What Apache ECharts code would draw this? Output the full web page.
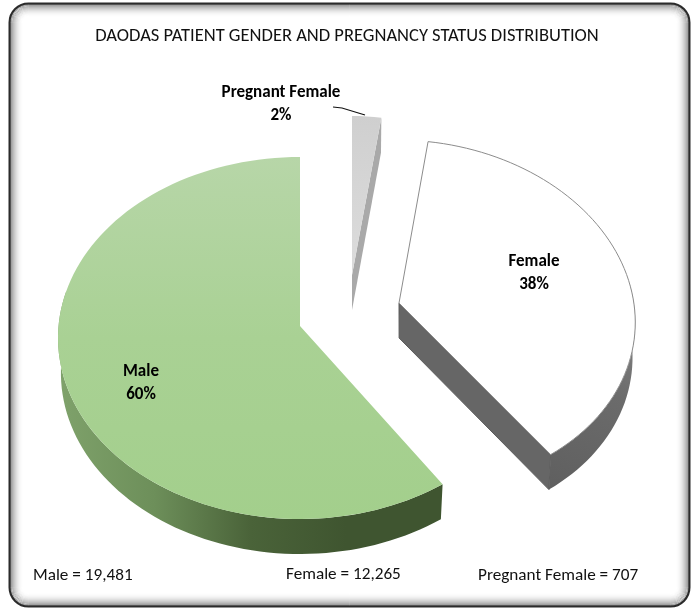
<!DOCTYPE html>
<html>
<head>
<meta charset="utf-8">
<title>DAODAS patient gender and pregnancy status</title>
<script src="https://cdn.jsdelivr.net/npm/echarts@6/dist/echarts.min.js"></script>
<style>
html, body { margin: 0; padding: 0; background: #fff; }
#chart { width: 695px; height: 608px; }
</style>
</head>
<body>
<div id="chart"></div>
<script>
var titleText = 'DAODAS PATIENT GENDER AND PREGNANCY STATUS DISTRIBUTION';
// 数据
var categories = ['Male', 'Female', 'Pregnant Female'];
var counts = [19481, 12265, 707];
var percentLabels = ['60%', '38%', '2%'];

var font = 'Carlito, Calibri, Lato, "Open Sans", sans-serif';
var DEPTH = 35;
var SHRINK = 0.988;

// 每块的椭圆位置（三维饼图的透视手工拟合）
var shapes = [
	{ cx: 300, cy: 338, rx: 242, ry: 181, sk: 0, ax: 300, ay: 326, lx: 141, ly: 383 },
	{ cx: 408, cy: 314, rx: 227, ry: 174, sk: 11, ax: 399, ay: 303, lx: 534, ly: 273 },
	{ cx: 352, cy: 297, rx: 215, ry: 181, sk: 0, ax: 352, ay: 275, lx: 281, ly: 104 }
];

var total = counts.reduce(function(a, b) { return a + b; }, 0);
// 顺时针从12点开始：孕妇、女性、男性
var sweep = counts.map(function(v) { return v / total * 360; });
var ranges = [
	[sweep[2] + sweep[1], 360],
	[sweep[2], sweep[2] + sweep[1]],
	[0, sweep[2]]
];

function rimPoint(s, deg) {
	var t = deg * Math.PI / 180;
	return [s.cx + s.rx * Math.sin(t) - s.sk * Math.cos(t), s.cy - s.ry * Math.cos(t)];
}
function rimPoints(s, from, to) {
	var pts = [];
	var n = Math.max(4, Math.ceil(Math.abs(to - from) / 2));
	for (var i = 0; i <= n; i++) {
		pts.push(rimPoint(s, from + (to - from) * i / n));
	}
	return pts;
}
// 底面：下移并略微收窄
function drop(s, pts) {
	return pts.map(function(p) {
		return [s.cx + (p[0] - s.cx) * SHRINK, p[1] + DEPTH];
	}).reverse();
}
function poly(points, fill, stroke, z2) {
	return {
		type: 'polygon',
		z2: z2 || 0,
		shape: { points: points },
		style: { fill: fill, stroke: stroke || null, lineWidth: stroke ? 1 : 0 }
	};
}
function grad(x, y, x2, y2, stops) {
	return new echarts.graphic.LinearGradient(x, y, x2, y2, stops.map(function(c, i) {
		return { offset: i / (stops.length - 1), color: c };
	}));
}

function renderSlice(params, api) {
	var i = params.dataIndex;
	var s = shapes[i];
	var r = ranges[i];
	var top = [[s.ax, s.ay]].concat(rimPoints(s, r[0], r[1]));
	var kids = [];

	if (i === 0) {
		var outer = rimPoints(s, r[0], 285);
		kids.push(poly(outer.concat(drop(s, outer)), grad(1, 0, 0, 0, ['#3f5530', '#3f5530', '#4a6339', '#6d8f5a', '#7fa26b'])));
		kids.push(poly(top, grad(0, 0, 0, 1, ['#b7d6a8', '#a9d194', '#a3cf8c'])));
	} else if (i === 1) {
		var side = [[s.ax, s.ay], rimPoint(s, r[1])];
		kids.push(poly(side.concat(drop(s, side)), '#666666', '#5c5c5c'));
		var rim = rimPoints(s, r[1], 80);
		kids.push(poly(rim.concat(drop(s, rim)), grad(0, 1, 1, 0, ['#5f5f5f', '#6b6b6b', '#8e8e8e'])));
		kids.push(poly(top, '#ffffff', '#8c8c8c', 1));
	} else {
		var edge = [[s.ax, s.ay], rimPoint(s, r[1])];
		kids.push(poly(edge.concat(drop(s, edge)), '#a9a9a9'));
		kids.push(poly(top, grad(0, 0, 0, 1, ['#cfcfcf', '#d6d6d6', '#dcdcdc']), null, 1));
		kids.push({
			type: 'polyline',
			z2: 3,
			shape: { points: [[333, 107], [342, 108], [365, 115]] },
			style: { fill: null, stroke: '#111111', lineWidth: 1.2 }
		});
	}
	kids.push({
		type: 'text',
		z2: 5,
		x: s.lx,
		y: s.ly,
		style: {
			text: api.value(1) + '\n' + api.value(2),
			fill: '#000000',
			font: 'bold 17px ' + font,
			lineHeight: 23,
			align: 'center',
			verticalAlign: 'middle'
		}
	});
	return { type: 'group', children: kids };
}

// 外框：深色边线，向内渐隐的斜面阴影
var frame = [{
	type: 'rect',
	z: -2,
	shape: { x: 9.5, y: 3.5, width: 680, height: 603, r: 19 },
	style: { fill: '#ffffff', stroke: '#2b2b2b', lineWidth: 2 }
}];
for (var k = 1; k <= 13; k++) {
	var a = 0.5 * Math.pow(1 - k / 14, 2);
	frame.push({
		type: 'rect',
		z: -1,
		shape: { x: 9.5 + k, y: 3.5 + k, width: 680 - 2 * k, height: 603 - 2 * k, r: Math.max(19 - k, 2) },
		style: { fill: null, stroke: 'rgba(0,0,0,' + a.toFixed(3) + ')', lineWidth: 1 }
	});
}
function footText(x, y, text) {
	return { type: 'text', x: x, y: y, style: { text: text, font: '17.2px ' + font, fill: '#111111', verticalAlign: 'middle' } };
}

var chart = echarts.init(document.getElementById('chart'), null, { renderer: 'canvas' });
chart.setOption({
	animation: false,
	backgroundColor: '#ffffff',
	title: {
		text: titleText,
		left: 342,
		top: 22,
		textAlign: 'center',
		textStyle: { fontFamily: font, fontSize: 18.5, fontWeight: 'normal', color: '#111111' }
	},
	graphic: frame.concat([
		footText(33, 576, categories[0] + ' = ' + counts[0].toLocaleString('en-US')),
		footText(286, 575, categories[1] + ' = ' + counts[1].toLocaleString('en-US')),
		footText(478, 576, categories[2] + ' = ' + counts[2])
	]),
	series: [{
		type: 'custom',
		coordinateSystem: 'none',
		renderItem: renderSlice,
		silent: true,
		data: categories.map(function(c, i) {
			return [counts[i], c, percentLabels[i]];
		})
	}]
});
</script>
</body>
</html>
